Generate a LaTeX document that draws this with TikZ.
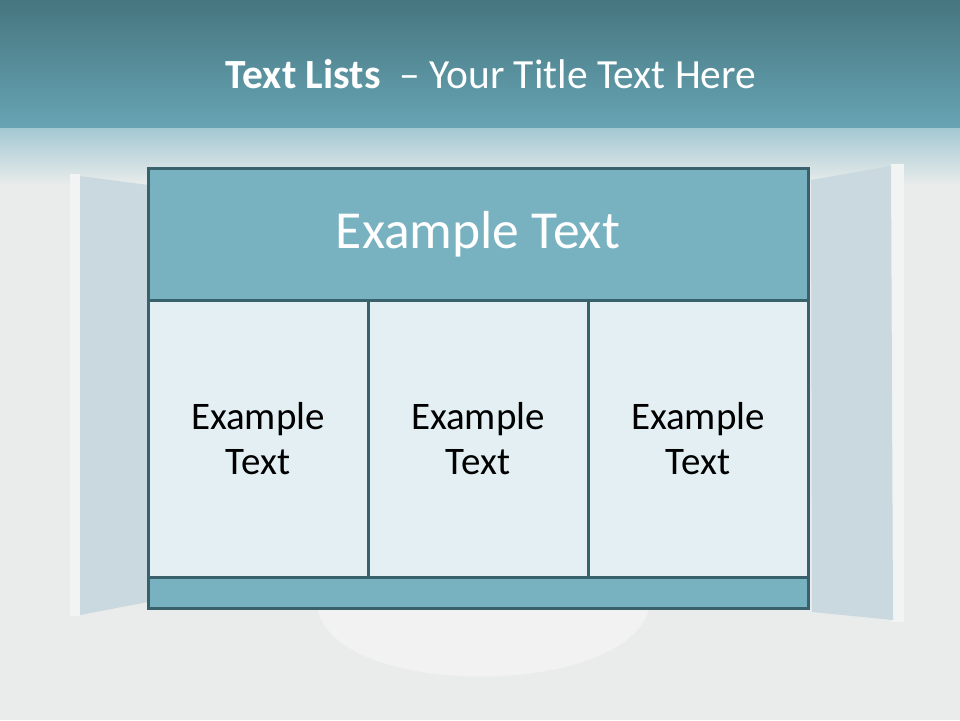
\documentclass[tikz,border=0pt]{standalone}
\usepackage{fontspec}
\setmainfont{Carlito}
\usetikzlibrary{positioning}

\definecolor{bandtop}{HTML}{46767F}
\definecolor{bandlow}{HTML}{67A4B4}
\definecolor{haze}{HTML}{A3C8D2}
\definecolor{roomgray}{HTML}{E9ECEB}
\definecolor{doorblue}{HTML}{C9D9DF}
\definecolor{tealfill}{HTML}{78B1C0}
\definecolor{tealline}{HTML}{38616C}
\definecolor{cellfill}{HTML}{E3EFF2}
\definecolor{bowlwhite}{HTML}{F1F2F1}

\tikzset{
  tbl/.style={draw=tealline, line width=3pt, outer sep=0pt, inner sep=0pt},
  headbox/.style={tbl, fill=tealfill, minimum width=660pt, minimum height=132pt,
    text=white, font=\fontsize{53.5}{60}\selectfont},
  cellbox/.style={tbl, fill=cellfill, minimum width=220pt, minimum height=277pt,
    align=center, font=\fontsize{39}{45}\selectfont},
  footbox/.style={tbl, fill=tealfill, minimum width=660pt, minimum height=31pt},
  titletext/.style={text=white, font=\fontsize{41.5}{48}\selectfont, anchor=base}
}

\begin{document}
\begin{tikzpicture}[x=1pt, y=-1pt]
    \useasboundingbox (0,0) rectangle (960,720);

    % 背景
    \fill[roomgray] (0,0) rectangle (960,720);
    \shade[top color=bandtop, bottom color=bandlow] (0,0) rectangle (960,128);
    \shade[top color=haze, bottom color=roomgray] (0,128) rectangle (960,185);

    % 两侧的门
    \fill[white!40!roomgray] (70,174) rectangle (80,616);
    \fill[doorblue] (80,176) -- (148,185) -- (148,602) -- (80,615) -- cycle;
    \fill[white!40!roomgray] (891,164) rectangle (904,622);
    \fill[doorblue] (811,180) -- (891,166) -- (893,620) -- (812,612) -- cycle;

    % 下方的白色碗
    \filldraw[fill=bowlwhite, draw=black!6] (317,606) .. controls (330,700) and (630,700) .. (650,606) -- cycle;

    % 标题
    \node[titletext] (title) at (491,88) {\textbf{Text Lists}\hspace{0.45em}– Your Title Text Here};

    % 表格
    \node[headbox, anchor=north west] (head) at (148,168) {Example Text};
    \node[cellbox, below right=0pt and 0pt of head.south west] (colA) {Example\\Text};
    \node[cellbox, right=0pt of colA] (colB) {Example\\Text};
    \node[cellbox, right=0pt of colB] (colC) {Example\\Text};
    \node[footbox, below=0pt of colB] (foot) {};

\end{tikzpicture}
\end{document}
